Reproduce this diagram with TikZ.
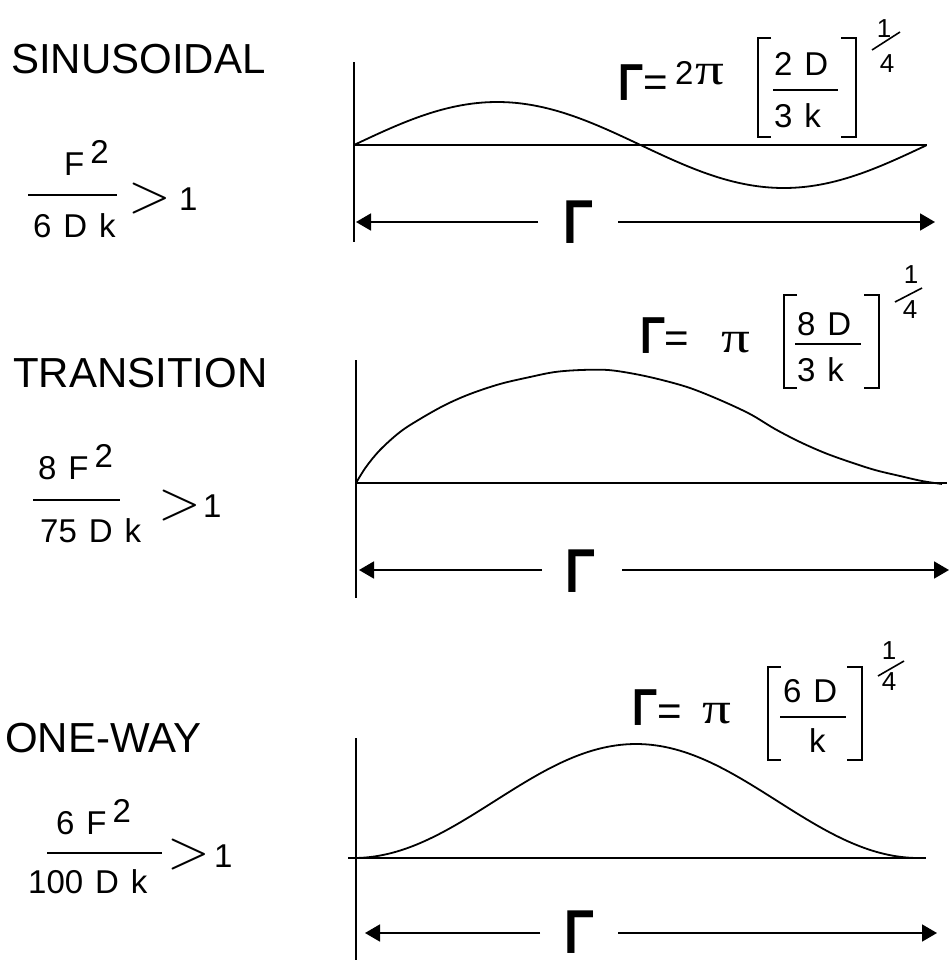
\documentclass[tikz,border=0pt]{standalone}
\usepackage{fontspec}
\usepackage{graphicx}
\setmainfont{Liberation Sans}[WordSpace=1.3]
\newfontfamily\pifont{Liberation Serif}
\newfontfamily\lmfont{Latin Modern Roman}
\usetikzlibrary{arrows.meta}
\newcommand{\Gam}{\scalebox{0.8}[1]{\bfseries Γ}}
\newcommand{\Pii}{\scalebox{1.3}[1]{π}}
\newcommand{\Fsq}{F\kern6pt\raisebox{12pt}{2}}
\begin{document}
\begin{tikzpicture}[x=1pt,y=-1pt,
  txt/.style={inner sep=0pt,anchor=base west,font=\fontsize{33}{33}\selectfont},
  ttl/.style={inner sep=0pt,anchor=base west,font=\fontsize{42}{42}\selectfont},
  gamf/.style={inner sep=0pt,anchor=base west,font=\fontsize{52}{52}\selectfont},
  gama/.style={inner sep=0pt,anchor=base west,font=\fontsize{62}{62}\selectfont},
  eqs/.style={inner sep=0pt,anchor=base,font=\fontsize{42}{42}\selectfont},
  pis/.style={inner sep=0pt,anchor=base west,font=\fontsize{44}{44}\selectfont\pifont},
  gts/.style={inner sep=0pt,anchor=base,font=\fontsize{56}{56}\selectfont\lmfont},
  expo/.style={inner sep=0pt,anchor=base,font=\fontsize{26}{26}\selectfont},
  ax/.style={line width=1.8pt},
  crv/.style={line width=1.8pt},
  brk/.style={line width=2pt},
  fbar/.style={line width=1.6pt},
  dimline/.style={line width=1.8pt,-{Triangle[length=15pt,width=17pt]}}
]
\useasboundingbox (0,0) rectangle (950,975);

% ================= Panel 1: SINUSOIDAL =================
\node[ttl] (t1) at (11,73) {SINUSOIDAL};
\node[txt] (n1) at (64,175) {\Fsq};
\draw[fbar] (28,195) -- (117,195);
\node[txt] (d1) at (33,237) {6 D k};
\node[gts] (g1) at (150,212) {>};
\node[txt] (o1) at (179,210) {1};

\draw[ax] (354,62) -- (354,242);
\draw[ax] (354,145) -- (927,145);
\draw[crv] plot[domain=0:1,samples=140,variable=\t] ({354+573*\t},{145-43*sin(360*\t)});

\coordinate (a1l) at (356,222);
\coordinate (a1m) at (538,222);
\coordinate (a1n) at (618,222);
\coordinate (a1r) at (935,222);
\node[gama] (G1) at (563,243) {\Gam};
\draw[dimline] (a1m) -- (a1l);
\draw[dimline] (a1n) -- (a1r);

\node[gamf] (F1) at (618,100) {\Gam};
\node[eqs] (e1) at (656,96) {=};
\node[txt] (c1) at (675,84) {2};
\node[pis] (p1) at (695,84) {\Pii};
\draw[brk] (771,38) -- (758,38) -- (758,137) -- (771,137);
\draw[brk] (841,38) -- (856,38) -- (856,137) -- (841,137);
\node[txt] (u1) at (774,75) {2 D};
\draw[fbar] (773,90) -- (838,90);
\node[txt] (v1) at (774,127) {3 k};
\node[expo] (x1) at (884,37) {1};
\draw[fbar] (872,50) -- (900,32);
\node[expo] (y1) at (887,72) {4};

% ================= Panel 2: TRANSITION =================
\node[ttl] (t2) at (13,387) {TRANSITION};
\node[txt] (n2) at (38,479) {8 \Fsq};
\draw[fbar] (33,500) -- (120,500);
\node[txt] (d2) at (40,542) {75 D k};
\node[gts] (g2) at (180,519) {>};
\node[txt] (o2) at (203,517) {1};

\draw[ax] (356,360) -- (356,598);
\draw[ax] (356,483) -- (947,483);
\draw[crv] plot[smooth,tension=0.55] coordinates {(356,483) (366,467) (380,450) (400,432) (420,419) (445,405) (470,394) (500,384) (530,377) (555,372) (581,370) (608,370) (635,374) (662,380) (690,388) (720,400) (750,414) (775,429) (800,442) (825,453) (850,462) (875,470) (900,476) (922,481) (942,484)};

\coordinate (a2l) at (359,570);
\coordinate (a2m) at (542,570);
\coordinate (a2n) at (622,570);
\coordinate (a2r) at (949,570);
\node[gama] (G2) at (565,592) {\Gam};
\draw[dimline] (a2m) -- (a2l);
\draw[dimline] (a2n) -- (a2r);

\node[gamf] (F2) at (640,353) {\Gam};
\node[eqs] (e2) at (677,352) {=};
\node[pis] (p2) at (721,352) {\Pii};
\draw[brk] (797,295) -- (784,295) -- (784,388) -- (797,388);
\draw[brk] (864,295) -- (879,295) -- (879,388) -- (864,388);
\node[txt] (u2) at (797,335) {8 D};
\draw[fbar] (795,344) -- (861,344);
\node[txt] (v2) at (797,381) {3 k};
\node[expo] (x2) at (911,283) {1};
\draw[fbar] (895,302) -- (922,288);
\node[expo] (y2) at (910,318) {4};

% ================= Panel 3: ONE-WAY =================
\node[ttl] (t3) at (5,752) {ONE-WAY};
\node[txt] (n3) at (56,834) {6 \Fsq};
\draw[fbar] (47,853) -- (162,853);
\node[txt] (d3) at (28,893) {100 D k};
\node[gts] (g3) at (189,868) {>};
\node[txt] (o3) at (214,867) {1};

\draw[ax] (356,738) -- (356,960);
\draw[ax] (348,858) -- (926,858);
\draw[crv] plot[domain=0:1,samples=140,variable=\t] ({356+565*\t},{858-57*(1+cos(360*\t-180+(356-636+282.5)/285*180))});

\coordinate (a3l) at (365,933);
\coordinate (a3m) at (540,933);
\coordinate (a3n) at (618,933);
\coordinate (a3r) at (937,933);
\node[gama] (G3) at (564,953) {\Gam};
\draw[dimline] (a3m) -- (a3l);
\draw[dimline] (a3n) -- (a3r);

\node[gamf] (F3) at (632,725) {\Gam};
\node[eqs] (e3) at (670,725) {=};
\node[pis] (p3) at (702,723) {\Pii};
\draw[brk] (781,667) -- (768,667) -- (768,760) -- (781,760);
\draw[brk] (847,667) -- (862,667) -- (862,760) -- (847,760);
\node[txt] (u3) at (783,702) {6 D};
\draw[fbar] (780,717) -- (846,717);
\node[txt] (v3) at (809,752) {k};
\node[expo] (x3) at (889,659) {1};
\draw[fbar] (878,676) -- (904,661);
\node[expo] (y3) at (889,690) {4};
\end{tikzpicture}
\end{document}
